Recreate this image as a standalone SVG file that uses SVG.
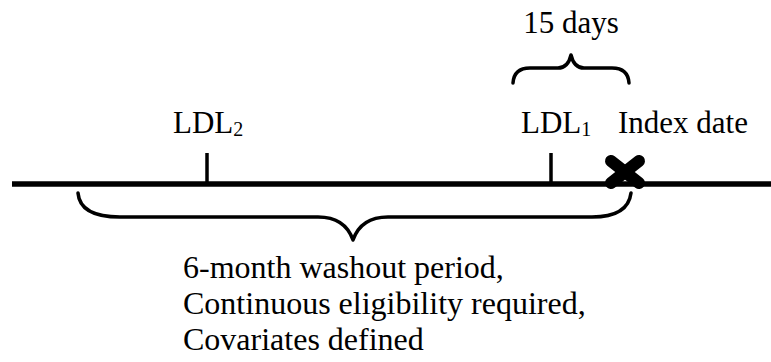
<svg xmlns="http://www.w3.org/2000/svg" width="771" height="362" viewBox="0 0 771 362">
<style>
text{font-family:"Liberation Serif","Times New Roman",serif;fill:#000}
.lbl{font-size:31px}
.sub{font-size:20px}
.note{font-size:32px}
.brace{fill:none;stroke:#000;stroke-width:3.5;stroke-linejoin:round;stroke-linecap:round}
.tick{stroke:#000;stroke-width:3.5}
</style>
<rect width="771" height="362" fill="#fff"/>
<g id="timeline">
<line x1="12" y1="184" x2="771" y2="184" stroke="#000" stroke-width="5.5"/>
</g>
<g id="ldl2">
<line class="tick" x1="207" y1="153" x2="207" y2="184"/>
<text class="lbl" x="173" y="133">LDL<tspan class="sub" dy="3">2</tspan></text>
</g>
<g id="ldl1">
<line class="tick" x1="551" y1="153" x2="551" y2="184"/>
<text class="lbl" x="521" y="133">LDL<tspan class="sub" dy="3">1</tspan></text>
</g>
<g id="index-date">
<g stroke="#000" stroke-width="12" stroke-linecap="round">
<line x1="611" y1="161" x2="639" y2="183"/>
<line x1="639" y1="161" x2="611" y2="183"/>
</g>
<text class="lbl" x="618" y="133">Index date</text>
</g>
<g id="connectors">
<path class="brace" d="M513,83 Q514,68 530,68 L558,68 Q568,68 571,55 Q574,68 584,68 L612,68 Q628,68 629,83"/>
<path class="brace" d="M78,193 Q80,217 120,217 L318,217 Q345,217 353,240 Q361,217 388,217 L592,217 Q628,217 631,193"/>
</g>
<g id="days-label">
<text class="lbl" x="571" y="33" text-anchor="middle">15 days</text>
</g>
<g id="washout-label">
<text class="note" x="183" y="278">6-month washout period,</text>
<text class="note" x="183" y="314">Continuous eligibility required,</text>
<text class="note" x="183" y="350">Covariates defined</text>
</g>
</svg>
